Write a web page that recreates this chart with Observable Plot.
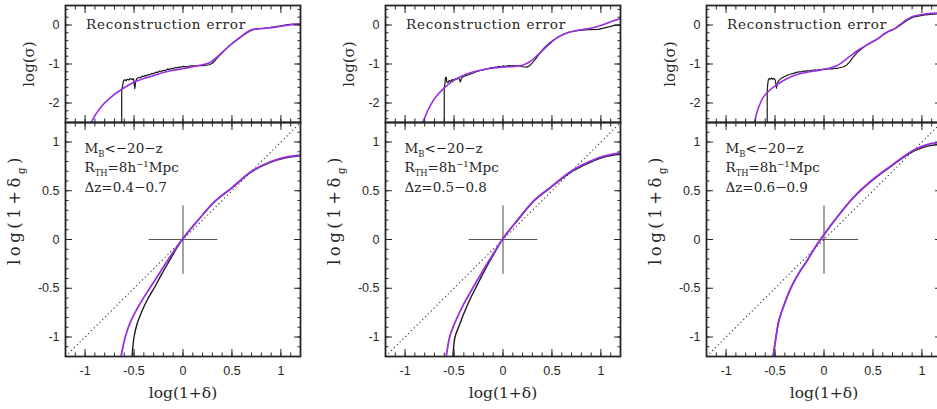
<!DOCTYPE html>
<html><head><meta charset="utf-8">
<script src="https://cdn.jsdelivr.net/npm/d3@7"></script>
<script src="https://cdn.jsdelivr.net/npm/@observablehq/plot@0.6"></script>
<style>
html,body{margin:0;padding:0;background:#fff;}
#wrap{position:relative;width:937px;height:409px;overflow:hidden;background:#fff;}
#wrap svg{position:absolute;overflow:visible;}
</style></head><body><div id="wrap"></div>
<script>
// ---------------- data ----------------
const xDomain = [-1.2, 1.2];
const sigmaDomain = [-2.5, 0.5];
const relDomain = [-1.2, 1.2];
const xMajor = [-1, -0.5, 0, 0.5, 1];
const xMajorLabels = ["-1", "-0.5", "0", "0.5", "1"];
const sigmaMajor = [0, -1, -2];
const sigmaMajorLabels = ["0", "-1", "-2"];
const relMajor = [1, 0.5, 0, -0.5, -1];
const relMajorLabels = ["1", "0.5", "0", "-0.5", "-1"];

const topTitle = "Reconstruction error";
const magCut = "M_{B}<−20−z";
const smoothing = "R_{TH}=8h⁻¹Mpc";
const zBins = ["Δz=0.4−0.7", "Δz=0.5−0.8", "Δz=0.6−0.9"];
const xLabel = "log(1+δ)";
const sigmaLabel = "log(σ)";
const relLabel = "log(1+δ_{g})";

const diagonal = [-1.2, 1.2];
const crossExtent = [-0.35, 0.35];

// reconstruction error, log(sigma) vs log(1+delta)
const sigma1Purple = [[-0.96,-2.62],[-0.94,-2.5],[-0.837,-2.10],[-0.735,-1.85],[-0.633,-1.66],[-0.497,-1.46],[-0.40,-1.37],[-0.327,-1.32],[-0.20,-1.22],[-0.10,-1.16],[0,-1.12],[0.10,-1.07],[0.20,-1.02],[0.27,-0.97],[0.33,-0.86],[0.40,-0.70],[0.49,-0.50],[0.58,-0.32],[0.65,-0.19],[0.70,-0.12],[0.76,-0.10],[0.85,-0.08],[0.93,-0.06],[1.05,-0.01],[1.2,0.03]];
const sigma1Black = [[-0.626,-2.6],[-0.626,-1.66],[-0.618,-1.58],[-0.608,-1.43],[-0.595,-1.40],[-0.582,-1.43],[-0.568,-1.39],[-0.552,-1.41],[-0.536,-1.37],[-0.52,-1.40],[-0.505,-1.38],[-0.492,-1.63],[-0.484,-1.46],[-0.474,-1.38],[-0.46,-1.36],[-0.445,-1.34],[-0.43,-1.35],[-0.415,-1.31],[-0.40,-1.32],[-0.385,-1.29],[-0.37,-1.30],[-0.355,-1.27],[-0.34,-1.28],[-0.32,-1.24],[-0.30,-1.25],[-0.28,-1.21],[-0.26,-1.22],[-0.24,-1.18],[-0.22,-1.19],[-0.20,-1.16],[-0.18,-1.17],[-0.16,-1.13],[-0.14,-1.14],[-0.12,-1.11],[-0.10,-1.12],[-0.08,-1.09],[-0.06,-1.10],[-0.04,-1.08],[-0.02,-1.08],[0.00,-1.06],[0.04,-1.07],[0.08,-1.05],[0.12,-1.05],[0.16,-1.04],[0.20,-1.04],[0.24,-1.03],[0.27,-1.02],[0.30,-0.98],[0.33,-0.90],[0.37,-0.79],[0.42,-0.66],[0.47,-0.54],[0.52,-0.44],[0.58,-0.33],[0.63,-0.24],[0.68,-0.16],[0.73,-0.11],[0.80,-0.09],[0.87,-0.07],[0.93,-0.05],[1.00,-0.02],[1.07,0.01],[1.13,0.02],[1.20,0.02]];

const sigma2Purple = [[-0.84,-2.62],[-0.82,-2.5],[-0.76,-2.15],[-0.70,-1.89],[-0.60,-1.61],[-0.50,-1.42],[-0.43,-1.32],[-0.30,-1.20],[-0.156,-1.12],[0,-1.08],[0.116,-1.06],[0.20,-1.03],[0.27,-0.95],[0.35,-0.78],[0.456,-0.53],[0.55,-0.33],[0.66,-0.20],[0.75,-0.14],[0.86,-0.10],[0.95,-0.05],[1.05,0.03],[1.12,0.10],[1.2,0.17]];
const sigma2Black = [[-0.60,-2.6],[-0.60,-1.63],[-0.594,-1.52],[-0.588,-1.36],[-0.58,-1.34],[-0.574,-1.46],[-0.562,-1.48],[-0.548,-1.42],[-0.534,-1.45],[-0.52,-1.40],[-0.505,-1.42],[-0.49,-1.38],[-0.476,-1.40],[-0.462,-1.36],[-0.448,-1.38],[-0.435,-1.46],[-0.425,-1.37],[-0.41,-1.33],[-0.395,-1.31],[-0.38,-1.30],[-0.36,-1.28],[-0.34,-1.27],[-0.32,-1.24],[-0.30,-1.23],[-0.28,-1.20],[-0.26,-1.19],[-0.24,-1.17],[-0.22,-1.16],[-0.20,-1.15],[-0.18,-1.13],[-0.16,-1.12],[-0.14,-1.11],[-0.12,-1.09],[-0.10,-1.10],[-0.08,-1.08],[-0.06,-1.08],[-0.04,-1.06],[-0.02,-1.07],[0.00,-1.05],[0.03,-1.06],[0.06,-1.04],[0.09,-1.05],[0.12,-1.04],[0.16,-1.05],[0.20,-1.07],[0.24,-1.08],[0.27,-1.05],[0.30,-0.97],[0.33,-0.88],[0.37,-0.74],[0.42,-0.59],[0.47,-0.47],[0.52,-0.38],[0.57,-0.30],[0.62,-0.23],[0.68,-0.18],[0.74,-0.15],[0.80,-0.13],[0.88,-0.12],[0.97,-0.11],[1.03,-0.08],[1.08,-0.05],[1.14,-0.01],[1.20,0.00]];

const sigma3Purple = [[-0.72,-2.62],[-0.71,-2.5],[-0.68,-2.2],[-0.65,-2.0],[-0.62,-1.85],[-0.55,-1.66],[-0.48,-1.53],[-0.38,-1.38],[-0.275,-1.27],[-0.17,-1.21],[-0.07,-1.17],[0.03,-1.12],[0.135,-1.04],[0.24,-0.85],[0.34,-0.66],[0.445,-0.50],[0.545,-0.36],[0.61,-0.23],[0.665,-0.15],[0.716,-0.10],[0.77,0.0],[0.853,0.15],[0.92,0.23],[1.03,0.28],[1.12,0.30],[1.2,0.31]];
const sigma3Black = [[-0.58,-2.6],[-0.58,-1.70],[-0.575,-1.52],[-0.568,-1.40],[-0.558,-1.37],[-0.546,-1.39],[-0.534,-1.36],[-0.522,-1.39],[-0.51,-1.37],[-0.498,-1.41],[-0.485,-1.62],[-0.476,-1.50],[-0.465,-1.43],[-0.45,-1.40],[-0.435,-1.36],[-0.42,-1.35],[-0.405,-1.32],[-0.39,-1.31],[-0.37,-1.28],[-0.35,-1.27],[-0.33,-1.25],[-0.31,-1.24],[-0.29,-1.22],[-0.27,-1.21],[-0.25,-1.20],[-0.23,-1.20],[-0.21,-1.18],[-0.19,-1.19],[-0.17,-1.17],[-0.15,-1.18],[-0.13,-1.16],[-0.11,-1.16],[-0.09,-1.15],[-0.07,-1.16],[-0.05,-1.14],[-0.03,-1.15],[-0.01,-1.13],[0.02,-1.14],[0.05,-1.12],[0.08,-1.13],[0.11,-1.11],[0.14,-1.11],[0.17,-1.09],[0.20,-1.07],[0.23,-1.03],[0.26,-0.95],[0.30,-0.82],[0.34,-0.70],[0.40,-0.58],[0.445,-0.50],[0.50,-0.42],[0.545,-0.36],[0.61,-0.24],[0.665,-0.16],[0.716,-0.11],[0.77,-0.02],[0.853,0.13],[0.92,0.21],[1.03,0.26],[1.12,0.28],[1.2,0.29]];

// galaxy vs matter density, log(1+delta_g) vs log(1+delta)
const rel1Purple = [[-0.645,-1.25],[-0.633,-1.2],[-0.59,-1.0],[-0.53,-0.83],[-0.44,-0.66],[-0.34,-0.5],[-0.24,-0.345],[-0.156,-0.213],[-0.08,-0.10],[0,0.01],[0.16,0.205],[0.32,0.386],[0.49,0.524],[0.694,0.695],[0.898,0.80],[1.05,0.845],[1.2,0.866]];
const rel1Black = [[-0.528,-1.25],[-0.521,-1.2],[-0.50,-1.0],[-0.47,-0.87],[-0.42,-0.735],[-0.36,-0.61],[-0.29,-0.49],[-0.22,-0.36],[-0.14,-0.22],[-0.07,-0.10],[0,0.01],[0.16,0.205],[0.32,0.384],[0.49,0.52],[0.694,0.69],[0.898,0.795],[1.05,0.838],[1.2,0.858]];
const rel2Purple = [[-0.59,-1.25],[-0.58,-1.2],[-0.545,-1.0],[-0.49,-0.85],[-0.40,-0.66],[-0.31,-0.5],[-0.22,-0.345],[-0.14,-0.213],[-0.07,-0.10],[0,0.01],[0.16,0.215],[0.32,0.404],[0.49,0.54],[0.71,0.71],[0.93,0.82],[1.05,0.86],[1.2,0.89]];
const rel2Black = [[-0.52,-1.25],[-0.513,-1.2],[-0.49,-1.0],[-0.446,-0.88],[-0.40,-0.76],[-0.34,-0.62],[-0.28,-0.5],[-0.21,-0.36],[-0.13,-0.213],[-0.065,-0.10],[0,0.01],[0.16,0.21],[0.32,0.40],[0.49,0.535],[0.71,0.70],[0.93,0.81],[1.05,0.85],[1.2,0.875]];
const rel3Purple = [[-0.53,-1.25],[-0.52,-1.2],[-0.49,-1.0],[-0.46,-0.83],[-0.40,-0.65],[-0.34,-0.5],[-0.26,-0.35],[-0.17,-0.213],[-0.09,-0.08],[0,0.05],[0.15,0.25],[0.306,0.438],[0.48,0.60],[0.65,0.73],[0.887,0.90],[1.0,0.955],[1.1,0.985],[1.2,0.995]];
const rel3Black = [[-0.53,-1.25],[-0.52,-1.2],[-0.49,-1.0],[-0.46,-0.83],[-0.40,-0.65],[-0.34,-0.5],[-0.26,-0.35],[-0.17,-0.213],[-0.09,-0.08],[0,0.05],[0.15,0.25],[0.306,0.436],[0.48,0.595],[0.65,0.725],[0.887,0.89],[1.0,0.94],[1.1,0.965],[1.2,0.975]];

const sigmaPurple = [sigma1Purple, sigma2Purple, sigma3Purple];
const sigmaBlack = [sigma1Black, sigma2Black, sigma3Black];
const relPurple = [rel1Purple, rel2Purple, rel3Purple];
const relBlack = [rel1Black, rel2Black, rel3Black];

// ---------------- drawing ----------------
const PURPLE = "#9a30e4";
const INK = "#262626";
const SERIF = "DejaVu Serif";
const SANS = "Liberation Sans";
const colLeft = [0.5, 320.5, 642];
const wrap = document.getElementById("wrap");

const minorTicks = (lo, hi, step) => d3.range(Math.round(lo / step), Math.round(hi / step) + 1).map(k => +(k * step).toFixed(3));
const xMinor = minorTicks(-1.2, 1.2, 0.1);
const sigmaMinor = minorTicks(-2.4, 0.4, 0.2);
const relMinor = minorTicks(-1.2, 1.2, 0.1);
const fmt = (vals, labels) => d => labels[vals.indexOf(d)];

function frameTicks(xMaj, xMin, yMaj, yMin) {
  const o = {stroke: INK, strokeWidth: 1, fill: "none", label: null};
  const M = 7, m = 3.5;
  return [
    Plot.axisX(xMaj, {...o, anchor: "bottom", tickSize: M, dy: -M}),
    Plot.axisX(xMin, {...o, anchor: "bottom", tickSize: m, dy: -m}),
    Plot.axisX(xMaj, {...o, anchor: "top", tickSize: M, dy: M}),
    Plot.axisX(xMin, {...o, anchor: "top", tickSize: m, dy: m}),
    Plot.axisY(yMaj, {...o, anchor: "left", tickSize: M, dx: M}),
    Plot.axisY(yMin, {...o, anchor: "left", tickSize: m, dx: m}),
    Plot.axisY(yMaj, {...o, anchor: "right", tickSize: M, dx: -M}),
    Plot.axisY(yMin, {...o, anchor: "right", tickSize: m, dx: -m})
  ];
}

function renderSubs(svg) {
  d3.select(svg).selectAll("text").each(function () {
    const s = this.textContent;
    if (!s.includes("_{")) return;
    const fs = parseFloat(getComputedStyle(this).fontSize) || 14;
    const sel = d3.select(this);
    sel.text(null);
    let pending = 0;
    s.split(/(_\{[^}]*\})/).forEach(p => {
      if (!p) return;
      if (p.startsWith("_{")) {
        const sh = fs * 0.3;
        sel.append("tspan").attr("dy", sh).attr("font-size", fs * 0.62).text(p.slice(2, -1));
        pending = sh;
      } else {
        const t = sel.append("tspan").text(p);
        if (pending) { t.attr("dy", -pending); pending = 0; }
      }
    });
  });
}

function spaceText(svg, str, px) {
  d3.select(svg).selectAll("text").filter(function () { return this.textContent === str; })
    .attr("letter-spacing", px + "px");
}

const lineOpts = (color, w) => ({x: d => d[0], y: d => d[1], stroke: color, strokeWidth: w, clip: true});

for (let i = 0; i < 3; i++) {
  const top = Plot.plot({
    width: 320, height: 122,
    marginTop: 5, marginBottom: 0, marginLeft: 64, marginRight: 21,
    x: {domain: xDomain}, y: {domain: sigmaDomain},
    style: {fontFamily: SANS, fontSize: "12.5px", color: INK, background: "transparent"},
    marks: [
      Plot.line(sigmaBlack[i], {...lineOpts("#1a1a1a", 1.2)}),
      Plot.line(sigmaPurple[i], {...lineOpts(PURPLE, 1.6), curve: "catmull-rom"}),
      ...frameTicks(xMajor, xMinor, sigmaMajor, sigmaMinor),
      Plot.axisY(sigmaMajor, {anchor: "left", tickSize: 0, tickPadding: 6, tickFormat: fmt(sigmaMajor, sigmaMajorLabels), label: null, fill: INK}),
      Plot.frame({stroke: INK, strokeWidth: 1.8}),
      Plot.text([topTitle], {text: d => d, frameAnchor: "top-left", dx: 20.5, dy: 19.5, textAnchor: "start", lineAnchor: "middle", fontFamily: SERIF, fontSize: 13.5, fill: INK}),
      Plot.text([sigmaLabel], {text: d => d, frameAnchor: "left", dx: -36, dy: 0, rotate: -90, textAnchor: "middle", lineAnchor: "middle", fontFamily: SERIF, fontSize: 15, fill: INK})
    ]
  });
  top.style.left = colLeft[i] + "px";
  top.style.top = "0px";
  wrap.appendChild(top);
  spaceText(top, topTitle, 0.8);

  const crossLinks = [
    {x1: crossExtent[0], y1: 0, x2: crossExtent[1], y2: 0},
    {x1: 0, y1: crossExtent[0], x2: 0, y2: crossExtent[1]}
  ];
  const bottom = Plot.plot({
    width: 320, height: 297,
    marginTop: 10, marginBottom: 53, marginLeft: 64, marginRight: 21,
    x: {domain: xDomain}, y: {domain: relDomain},
    style: {fontFamily: SANS, fontSize: "12.5px", color: INK, background: "transparent"},
    marks: [
      Plot.link([{x1: diagonal[0], y1: diagonal[0], x2: diagonal[1], y2: diagonal[1]}], {x1: "x1", y1: "y1", x2: "x2", y2: "y2", stroke: "#333", strokeWidth: 1.1, strokeDasharray: "1.2,2.8", clip: true}),
      Plot.link(crossLinks, {x1: "x1", y1: "y1", x2: "x2", y2: "y2", stroke: "#555", strokeWidth: 1.1}),
      Plot.line(relBlack[i], {...lineOpts("#1a1a1a", 1.4), curve: "catmull-rom"}),
      Plot.line(relPurple[i], {...lineOpts(PURPLE, 1.8), curve: "catmull-rom"}),
      ...frameTicks(xMajor, xMinor, relMajor, relMinor),
      Plot.axisY(relMajor, {anchor: "left", tickSize: 0, tickPadding: 6, tickFormat: fmt(relMajor, relMajorLabels), label: null, fill: INK}),
      Plot.axisX(xMajor, {anchor: "bottom", tickSize: 0, tickPadding: 10, tickFormat: fmt(xMajor, xMajorLabels), label: null, fill: INK}),
      Plot.frame({stroke: INK, strokeWidth: 1.8}),
      Plot.text([magCut], {text: d => d, frameAnchor: "top-left", dx: 19, dy: 26, textAnchor: "start", lineAnchor: "middle", fontFamily: SERIF, fontSize: 13.5, fill: INK}),
      Plot.text([smoothing], {text: d => d, frameAnchor: "top-left", dx: 19, dy: 45.5, textAnchor: "start", lineAnchor: "middle", fontFamily: SERIF, fontSize: 13.5, fill: INK}),
      Plot.text([zBins[i]], {text: d => d, frameAnchor: "top-left", dx: 19, dy: 65, textAnchor: "start", lineAnchor: "middle", fontFamily: SERIF, fontSize: 13.5, fill: INK}),
      Plot.text([xLabel], {text: d => d, frameAnchor: "bottom", dy: 37, textAnchor: "middle", lineAnchor: "middle", fontFamily: SERIF, fontSize: 15.5, fill: INK}),
      Plot.text([relLabel], {text: d => d, frameAnchor: "left", dx: -51, dy: -30, rotate: -90, textAnchor: "middle", lineAnchor: "middle", fontFamily: SERIF, fontSize: 16.5, fill: INK})
    ]
  });
  bottom.style.left = colLeft[i] + "px";
  bottom.style.top = "112px";
  wrap.appendChild(bottom);
  spaceText(bottom, relLabel, 3.5);
  renderSubs(bottom);
}
</script></body></html>
